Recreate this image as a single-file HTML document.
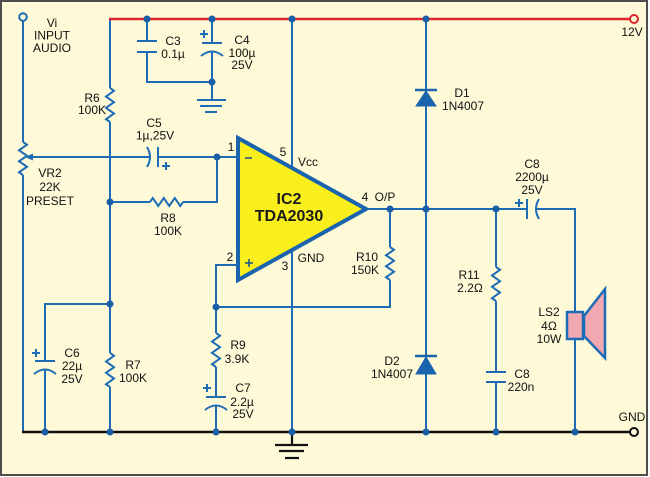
<!DOCTYPE html>
<html><head><meta charset="utf-8"><style>
html,body{margin:0;padding:0;background:#fff;}
svg{display:block;}
text{font-family:"Liberation Sans",Arial,sans-serif;font-size:12px;fill:#111;}
</style></head><body>
<svg width="650" height="477" viewBox="0 0 650 477" xmlns="http://www.w3.org/2000/svg">
<rect x="1" y="1" width="646" height="474" fill="#fefad8" stroke="#4d4d4d" stroke-width="2"/>
<g fill="none" stroke="#1d6cb5" stroke-width="2">
<!-- Vi / VR2 column -->
<line x1="23" y1="21" x2="23" y2="142"/>
<polyline points="23,142 27,144.75 19,150.25 27,155.75 19,161.25 27,166.75 19,172.25 23,175"/>
<line x1="23" y1="175" x2="23" y2="432"/>
<!-- wiper line -->
<line x1="31" y1="157" x2="149" y2="157"/>
<line x1="158" y1="157" x2="238" y2="157"/>
<!-- R6/R7 column -->
<line x1="110" y1="19" x2="110" y2="88"/>
<polyline points="110,88 114,90.8 106,96.5 114,102.2 106,107.8 114,113.5 106,119.2 110,122"/>
<line x1="110" y1="122" x2="110" y2="353"/>
<polyline points="110,353 114,355.8 106,361.5 114,367.2 106,372.8 114,378.5 106,384.2 110,387"/>
<line x1="110" y1="387" x2="110" y2="432"/>
<!-- R8 -->
<line x1="110" y1="202" x2="150" y2="202"/>
<polyline points="150,202 152.75,198 158.25,206 163.75,198 169.25,206 174.75,198 180.25,206 183,202"/>
<polyline points="183,202 217,202 217,157"/>
<!-- C5 -->
<line x1="158" y1="147" x2="158" y2="167"/>
<path d="M147,147 Q153,157 147,167"/>
<!-- C3 -->
<line x1="147" y1="19" x2="147" y2="41"/>
<line x1="137" y1="41" x2="157" y2="41"/>
<line x1="137" y1="52" x2="157" y2="52"/>
<polyline points="147,52 147,82 212,82"/>
<!-- C4 -->
<line x1="212" y1="19" x2="212" y2="43"/>
<line x1="202" y1="43" x2="222" y2="43"/>
<path d="M201,56 Q212,47 223,56"/>
<line x1="212" y1="51" x2="212" y2="100"/>
<line x1="197" y1="100" x2="226" y2="100"/>
<line x1="200" y1="106" x2="222" y2="106"/>
<line x1="205" y1="112" x2="217" y2="112"/>
<!-- Vcc / GND of IC -->
<line x1="292" y1="19" x2="292" y2="168"/>
<line x1="292" y1="250" x2="292" y2="432"/>
<!-- pin 2 and R9/C7 -->
<polyline points="238,265 216,265 216,333"/>
<polyline points="216,333 220,335.8 212,341.5 220,347.2 212,352.8 220,358.5 212,364.2 216,367"/>
<line x1="216" y1="367" x2="216" y2="397"/>
<line x1="206" y1="397" x2="226" y2="397"/>
<path d="M205,410 Q216,401 227,410"/>
<line x1="216" y1="405" x2="216" y2="432"/>
<!-- R10 feedback -->
<line x1="390" y1="209" x2="390" y2="247"/>
<polyline points="390,247 394,249.75 386,255.25 394,260.75 386,266.25 394,271.75 386,277.25 390,280"/>
<polyline points="390,280 390,307 216,307"/>
<!-- output -->
<line x1="366" y1="209" x2="527" y2="209"/>
<line x1="527" y1="199" x2="527" y2="219"/>
<path d="M539,199 Q533,209 539,219"/>
<polyline points="535,209 575,209 575,432"/>
<!-- diode column -->
<line x1="426" y1="19" x2="426" y2="432"/>
<!-- R11 / C8 220n -->
<line x1="496" y1="209" x2="496" y2="267"/>
<polyline points="496,267 500,269.8 492,275.5 500,281.2 492,286.8 500,292.5 492,298.2 496,301"/>
<line x1="496" y1="301" x2="496" y2="372"/>
<line x1="486" y1="372" x2="506" y2="372"/>
<line x1="486" y1="382" x2="506" y2="382"/>
<line x1="496" y1="382" x2="496" y2="432"/>
<!-- C6 -->
<polyline points="110,304 45,304 45,361"/>
<line x1="35" y1="361" x2="55" y2="361"/>
<path d="M34,374 Q45,365 56,374"/>
<line x1="45" y1="369" x2="45" y2="432"/>
<!-- plus signs -->
<path d="M200,34h8M204,30v8"/>
<path d="M162,166h8M166,162v8"/>
<path d="M32,353h8M36,349v8"/>
<path d="M203,388h8M207,384v8"/>
<path d="M515,203h8M519,199v8"/>
</g>
<!-- wiper arrow -->
<polygon points="25,157 33,153.5 33,160.5" fill="#1d6cb5"/>
<!-- diodes -->
<g fill="#1a63ad" stroke="#1a63ad" stroke-width="2.5">
<line x1="415" y1="90" x2="437" y2="90"/>
<polygon points="426,91 416,106 436,106" stroke-width="1"/>
<line x1="415" y1="356" x2="437" y2="356"/>
<polygon points="426,357 416,374 436,374" stroke-width="1"/>
</g>
<!-- speaker -->
<polygon points="584,316 605,289 605,358 584,336" fill="#f2a8b1" stroke="#1d6cb5" stroke-width="2.5" stroke-linejoin="miter"/>
<rect x="567" y="312" width="16" height="27" fill="#f2a8b1" stroke="#1d6cb5" stroke-width="2.5"/>
<!-- IC -->
<polygon points="238,138 238,280 366,209" fill="#f9ef1c" stroke="#1a63ad" stroke-width="4" stroke-linejoin="miter"/>
<!-- rails -->
<line x1="109" y1="19" x2="630" y2="19" stroke="#e0242e" stroke-width="2.5"/>
<circle cx="634" cy="19" r="4" fill="#fefad8" stroke="#e0242e" stroke-width="2"/>
<line x1="22" y1="432" x2="630" y2="432" stroke="#111" stroke-width="2.5"/>
<circle cx="634" cy="432" r="4" fill="#fefad8" stroke="#111" stroke-width="2"/>
<circle cx="23" cy="17" r="3.8" fill="#fefad8" stroke="#1d6cb5" stroke-width="2"/>
<!-- bottom ground symbol -->
<g stroke="#111" stroke-width="2.2">
<line x1="292" y1="432" x2="292" y2="445"/>
<line x1="275" y1="445" x2="308" y2="445"/>
<line x1="279" y1="451" x2="304" y2="451"/>
<line x1="285" y1="458" x2="299" y2="458"/>
</g>
<!-- nodes -->
<g fill="#1a5ea6">
<circle cx="147" cy="19" r="3.5"/><circle cx="212" cy="19" r="3.5"/><circle cx="292" cy="19" r="3.5"/><circle cx="426" cy="19" r="3.5"/>
<circle cx="212" cy="82" r="3.5"/><circle cx="217" cy="157" r="3.5"/><circle cx="110" cy="202" r="3.5"/><circle cx="110" cy="304" r="3.5"/>
<circle cx="216" cy="307" r="3.5"/><circle cx="390" cy="209" r="3.5"/><circle cx="426" cy="209" r="3.5"/><circle cx="496" cy="209" r="3.5"/>
<circle cx="45" cy="432" r="3.5"/><circle cx="110" cy="432" r="3.5"/><circle cx="216" cy="432" r="3.5"/><circle cx="292" cy="432" r="3.5"/>
<circle cx="426" cy="432" r="3.5"/><circle cx="496" cy="432" r="3.5"/><circle cx="575" cy="432" r="3.5"/>
</g>
<!-- labels -->
<g text-anchor="middle">
<text x="52" y="27">Vi</text><text x="52" y="39.5">INPUT</text><text x="52" y="52">AUDIO</text>
<text x="173" y="45">C3</text><text x="173" y="58">0.1µ</text>
<text x="242" y="44">C4</text><text x="242" y="57">100µ</text><text x="242" y="69">25V</text>
<text x="632" y="36">12V</text>
<text x="92" y="102">R6</text><text x="92" y="114">100K</text>
<text x="154" y="127">C5</text><text x="155" y="139.5">1µ,25V</text>
<text x="50" y="177">VR2</text><text x="50" y="191">22K</text><text x="50" y="205">PRESET</text>
<text x="168" y="222">R8</text><text x="168" y="235">100K</text>
<text x="231" y="151">1</text><text x="230" y="261">2</text>
<text x="283" y="156">5</text><text x="308" y="166">Vcc</text>
<text x="285" y="270">3</text><text x="311" y="262">GND</text>
<text x="365" y="201">4</text><text x="385" y="201">O/P</text>
<text x="367" y="261">R10</text><text x="365" y="274">150K</text>
<text x="462" y="97">D1</text><text x="463" y="110">1N4007</text>
<text x="392" y="365">D2</text><text x="392" y="378">1N4007</text>
<text x="532" y="168">C8</text><text x="532" y="181">2200µ</text><text x="532" y="194">25V</text>
<text x="469" y="279">R11</text><text x="470" y="292">2.2Ω</text>
<text x="549" y="316">LS2</text><text x="549" y="330">4Ω</text><text x="549" y="343">10W</text>
<text x="522" y="378">C8</text><text x="521" y="391">220n</text>
<text x="632" y="421">GND</text>
<text x="72" y="357">C6</text><text x="72" y="370">22µ</text><text x="72" y="383">25V</text>
<text x="133" y="369">R7</text><text x="133" y="382">100K</text>
<text x="238" y="349">R9</text><text x="237" y="363">3.9K</text>
<text x="243" y="392">C7</text><text x="242" y="406">2.2µ</text><text x="243" y="418">25V</text>
<text x="289" y="204" style="font-size:16px;font-weight:bold;fill:#1a1a1a">IC2</text>
<text x="289" y="221" style="font-size:16px;font-weight:bold;fill:#1a1a1a">TDA2030</text>
</g>
<g stroke="#1a4f8f" stroke-width="1.5">
<line x1="245" y1="158" x2="252" y2="158"/>
<line x1="245" y1="263" x2="253" y2="263"/><line x1="249" y1="259" x2="249" y2="267"/>
</g>
</svg>
</body></html>
